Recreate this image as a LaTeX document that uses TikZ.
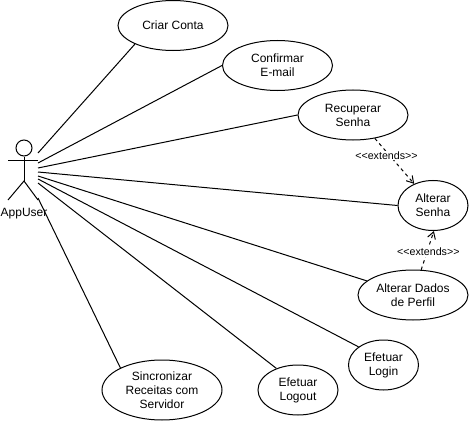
\documentclass[tikz,border=0pt]{standalone}
\usepackage{fontspec}
\setmainfont{Liberation Sans}
\usetikzlibrary{shapes.geometric,arrows.meta}
\tikzset{
  uc/.style 2 args={ellipse,draw=black,fill=white,line width=0.75pt,inner sep=0pt,align=center,font=\fontsize{9}{10.5}\selectfont,minimum width=#1*0.75pt,minimum height=#2*0.75pt},
  conn/.style={draw=black,line width=0.75pt},
  ext/.style={draw=black,line width=0.75pt,dash pattern=on 2.5pt off 2.5pt,-{Straight Barb[length=5pt,width=6pt]}},
  lab/.style={fill=white,inner sep=0.5pt,font=\fontsize{8}{9}\selectfont}
}
\begin{document}
\begin{tikzpicture}[x=0.75pt,y=-0.75pt]
\useasboundingbox (0,0) rectangle (469,421);
\fill[white] (0,0) rectangle (469,421);
\node[uc={110}{50}] (criar) at (173,25.5) {Criar Conta};
\node[uc={110}{50}] (conf) at (277.5,65.5) {Confirmar\\E-mail};
\node[uc={110}{50}] (rec) at (353,115) {Recuperar\\Senha};
\node[uc={70}{50}] (senha) at (433,205.5) {Alterar\\Senha};
\node[uc={110}{50}] (dados) at (413,295) {Alterar Dados\\de Perfil};
\node[uc={70}{50}] (login) at (383.5,365) {Efetuar\\Login};
\node[uc={80}{50}] (logout) at (298,390) {Efetuar\\Logout};
\node[uc={120}{60}] (sinc) at (162,390) {Sincronizar\\Receitas com\\Servidor};
% actor
\node[circle,draw=black,line width=0.75pt,minimum size=12pt,inner sep=0pt] (head) at (24,148) {};
\coordinate (hip) at (24,181);
\coordinate (armL) at (8,160);
\coordinate (armR) at (38,160);
\coordinate (legL) at (8,200);
\coordinate (legR) at (38,200);
\draw[conn] (head) -- (hip);
\draw[conn] (armL) -- (armR);
\draw[conn] (legL) -- (hip) -- (legR);
\node[inner sep=0pt,font=\fontsize{9}{11}\selectfont] (actorlab) at (24,214) {AppUser};
% connectors
\coordinate (a1) at (38,153);
\coordinate (a2) at (38,163);
\coordinate (a3) at (38,168);
\coordinate (a4) at (38,172);
\coordinate (a5) at (38,176);
\coordinate (a6) at (38,179);
\coordinate (a7) at (38,183);
\coordinate (a8) at (38,198);
\draw[conn] (a1) -- (criar.206);
\draw[conn] (a2) -- (conf.west);
\draw[conn] (a3) -- (rec.west);
\draw[conn] (a4) -- (senha.west);
\draw[conn] (a5) -- (dados.163);
\draw[conn] (a6) -- (login.144);
\draw[conn] (a7) -- (logout.135);
\draw[conn] (a8) -- (sinc.152);
\draw[ext] (rec.-47) -- node[lab,pos=0.38,xshift=-2.5pt] {{<}{<}extends{>}{>}} (senha.131.5);
\draw[ext] (dados.72) -- node[lab,pos=0.46,xshift=1pt] {{<}{<}extends{>}{>}} (senha.-88);
\end{tikzpicture}
\end{document}
